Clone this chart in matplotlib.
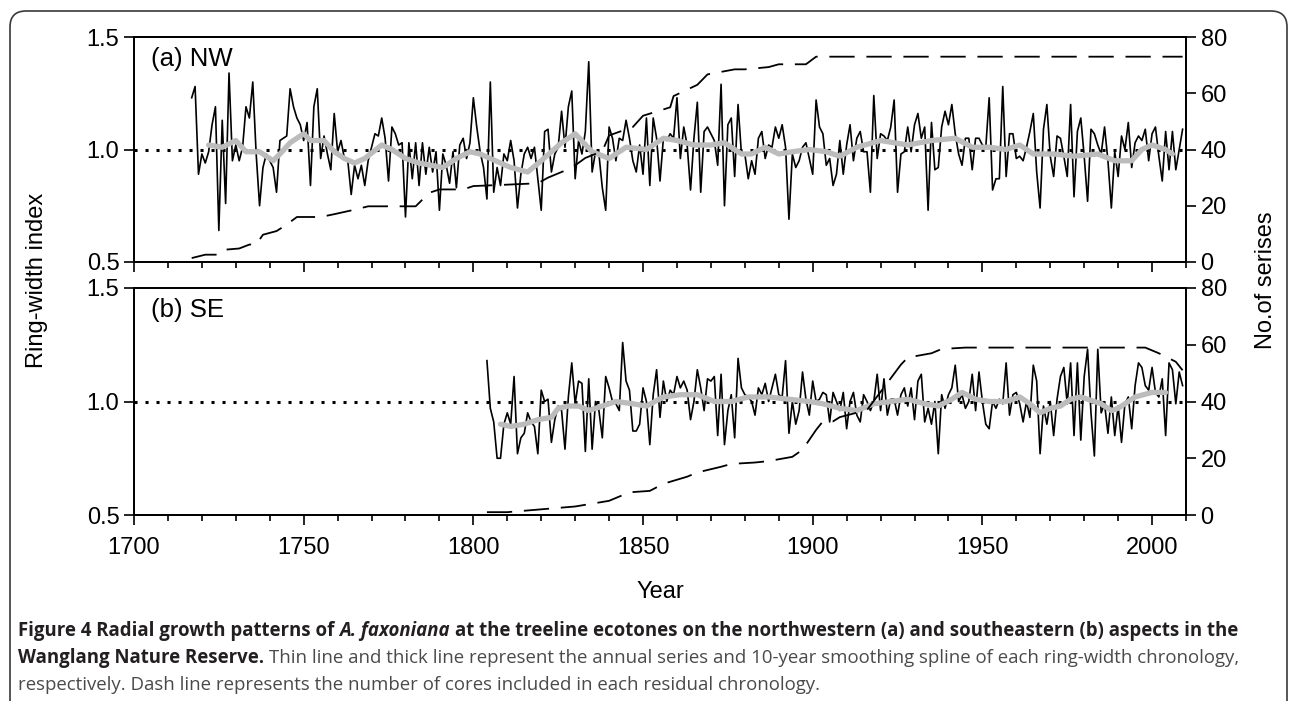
import numpy as np
import matplotlib
matplotlib.use("Agg")
import matplotlib.pyplot as plt
from matplotlib.patches import FancyBboxPatch
from matplotlib.ticker import MultipleLocator, FormatStrFormatter
from matplotlib.transforms import IdentityTransform

plt.rcParams['font.family'] = ['Liberation Sans', 'DejaVu Sans']

# --- (a) NW annual ring-width index, 1717-2009 ---
nw_start = 1717
nw_1717 = [1.23, 1.28, 0.89, 0.98, 0.94, 0.99, 1.11, 1.19, 0.64, 1.13, 0.76, 1.34, 0.95]
nw_1730 = [1.02, 0.95, 1.01, 1.19, 1.14, 1.30, 0.98, 0.75, 0.92, 0.98]
nw_1740 = [0.95, 0.92, 0.81, 1.04, 1.05, 1.06, 1.27, 1.19, 1.14, 1.11]
nw_1750 = [1.04, 1.12, 0.84, 1.19, 1.27, 0.96, 1.06, 0.98, 0.91, 1.16]
nw_1760 = [0.99, 1.04, 0.96, 0.95, 0.80, 0.93, 0.87, 0.93, 0.84, 0.95]
nw_1770 = [1.01, 1.07, 1.06, 1.14, 1.05, 0.86, 1.10, 1.07, 1.02, 1.03]
nw_1780 = [0.70, 1.03, 0.87, 1.03, 0.84, 1.03, 0.89, 1.01, 0.90, 0.99]
nw_1790 = [0.73, 0.98, 0.93, 0.85, 0.99, 0.83, 1.02, 1.05, 0.96, 1.03]
nw_1800 = [1.23, 1.10, 0.99, 0.92, 0.78, 1.30, 0.81, 0.92, 0.84, 0.98]
nw_1810 = [0.95, 1.04, 0.95, 0.74, 0.89, 0.98, 1.01, 0.96, 1.01, 0.87]
nw_1820 = [0.73, 1.08, 1.09, 0.90, 0.98, 1.01, 1.17, 1.01, 1.19, 1.26]
nw_1830 = [0.87, 1.04, 0.98, 1.08, 1.39, 0.90, 0.99, 0.98, 0.83, 0.73]
nw_1840 = [1.10, 1.05, 0.95, 1.05, 1.04, 1.13, 1.05, 0.95, 0.90, 1.02]
nw_1850 = [0.89, 1.14, 0.84, 1.14, 1.05, 0.86, 1.05, 1.04, 1.07, 1.05]
nw_1860 = [1.23, 0.96, 1.10, 1.02, 0.82, 1.05, 1.21, 0.81, 1.08, 1.10]
nw_1870 = [1.07, 1.04, 0.93, 1.29, 0.75, 1.11, 1.14, 0.88, 1.20, 0.98]
nw_1880 = [0.98, 0.87, 0.95, 0.89, 1.05, 1.08, 0.96, 1.02, 1.01, 1.10]
nw_1890 = [1.05, 1.11, 1.01, 0.69, 0.98, 0.92, 0.95, 1.01, 1.03, 0.96]
nw_1900 = [0.89, 1.22, 1.10, 1.07, 0.93, 0.96, 0.84, 0.89, 1.04, 0.89]
nw_1910 = [1.02, 1.11, 0.95, 1.05, 1.08, 0.99, 0.99, 0.81, 1.24, 0.96]
nw_1920 = [1.07, 1.06, 1.04, 1.10, 1.22, 0.81, 0.98, 0.99, 1.10, 0.99]
nw_1930 = [1.11, 1.16, 1.05, 1.10, 0.73, 1.12, 0.91, 0.92, 1.10, 1.17]
nw_1940 = [1.11, 1.20, 1.07, 0.98, 0.93, 1.05, 1.05, 0.91, 1.05, 1.05]
nw_1950 = [1.02, 1.01, 1.23, 0.82, 0.87, 0.87, 1.28, 0.88, 1.07, 1.07]
nw_1960 = [0.96, 0.97, 0.95, 1.01, 1.08, 1.16, 0.90, 0.74, 1.09, 1.20]
nw_1970 = [0.97, 0.88, 1.06, 1.05, 0.97, 0.88, 1.20, 0.79, 1.08, 1.14]
nw_1980 = [0.97, 0.77, 1.09, 1.07, 1.02, 0.98, 1.10, 0.95, 0.74, 0.99]
nw_1990 = [0.88, 1.06, 1.00, 1.12, 0.92, 1.03, 1.06, 1.04, 1.09, 0.95]
nw_2000 = [1.07, 1.10, 0.97, 0.86, 1.08, 0.91, 1.08, 0.91, 1.00, 1.09]

# 10-year spline (NW)
nw_spl_years = [1722, 1726, 1730, 1733, 1737, 1741, 1743, 1746, 1750, 1752, 1756, 1759,
                1762, 1765, 1768, 1773, 1776, 1780, 1784, 1791, 1795, 1799, 1802, 1805,
                1811, 1816, 1820, 1826, 1830, 1835, 1840, 1845, 1851, 1856, 1860, 1865,
                1870, 1874, 1879, 1882, 1886, 1890, 1894, 1899, 1904, 1908, 1913, 1920,
                1928, 1935, 1942, 1947, 1952, 1957, 1961, 1965, 1971, 1977, 1984, 1989,
                1994, 1997, 2000, 2004, 2006]
nw_spl_vals = [1.02, 1.01, 1.04, 0.99, 0.99, 0.95, 0.98, 1.03, 1.07, 1.04, 1.04, 0.99,
               0.96, 0.94, 0.96, 1.02, 1.00, 0.96, 0.94, 0.92, 0.96, 0.99, 0.98, 0.96,
               0.92, 0.90, 0.95, 1.03, 1.07, 0.99, 0.96, 1.01, 1.00, 1.05, 1.04, 1.02,
               1.02, 1.03, 0.98, 0.98, 1.01, 0.98, 0.99, 1.00, 0.99, 0.97, 1.01, 1.04,
               1.02, 1.04, 1.05, 1.01, 1.01, 1.00, 1.02, 0.98, 0.98, 0.97, 0.98, 0.95,
               0.95, 1.00, 1.02, 1.00, 0.98]

# sample depth (NW)
nw_n_years = [1717, 1721, 1725, 1727, 1731, 1734, 1736, 1738, 1742, 1745, 1748, 1755,
              1759, 1765, 1769, 1783, 1787, 1790, 1797, 1800, 1810, 1819, 1822, 1829,
              1833, 1838, 1840, 1847, 1850, 1858, 1859, 1866, 1869, 1877, 1880, 1887,
              1890, 1898, 1901, 2009]
nw_n_vals = [1.4, 2.6, 2.6, 4.4, 4.8, 6.2, 6.2, 9.7, 11, 13.3, 16, 16,
             17, 18.6, 19.8, 19.8, 24.6, 25.8, 25.8, 27, 27.5, 28, 30, 33.5,
             37, 39.4, 45, 48, 52, 55, 59, 63, 66.7, 68.5, 68.5, 69.3,
             70.3, 70.3, 73, 73]

# --- (b) SE annual ring-width index, 1804-2009 ---
se_start = 1804
se_1804 = [1.18, 0.97, 0.91, 0.75, 0.75, 0.90]
se_1810 = [0.95, 0.90, 1.11, 0.77, 0.84, 0.86, 0.95, 0.91, 0.89, 0.77]
se_1820 = [1.05, 1.00, 1.01, 0.82, 0.92, 0.98, 0.96, 0.79, 1.02, 1.17]
se_1830 = [0.99, 1.09, 1.08, 0.78, 1.10, 0.79, 1.00, 0.96, 0.84, 1.11]
se_1840 = [1.06, 1.00, 0.99, 0.96, 1.26, 1.09, 1.05, 0.87, 0.87, 0.90]
se_1850 = [1.06, 1.00, 0.81, 1.03, 1.14, 0.93, 1.09, 1.00, 1.05, 1.03]
se_1860 = [1.11, 1.06, 1.09, 1.05, 0.92, 1.00, 1.14, 1.06, 0.96, 1.10]
se_1870 = [1.09, 1.11, 0.85, 1.12, 0.81, 0.96, 1.03, 0.84, 1.19, 1.06]
se_1880 = [1.03, 1.02, 1.00, 0.94, 1.06, 1.03, 1.08, 1.00, 1.06, 1.12]
se_1890 = [1.03, 1.02, 1.18, 0.86, 1.00, 0.90, 0.96, 1.13, 1.01, 0.94]
se_1900 = [1.09, 1.00, 1.01, 1.04, 1.03, 0.91, 1.04, 1.00, 0.96, 1.04]
se_1910 = [0.88, 1.00, 1.04, 0.94, 0.91, 1.03, 1.00, 0.96, 1.00, 1.12]
se_1920 = [0.96, 1.10, 0.94, 1.01, 1.01, 0.94, 1.03, 1.06, 0.98, 1.06]
se_1930 = [0.92, 1.09, 1.12, 0.91, 0.97, 0.90, 1.00, 0.77, 1.03, 0.97]
se_1940 = [1.03, 1.06, 1.16, 1.00, 1.03, 0.97, 1.00, 1.12, 0.96, 1.13]
se_1950 = [1.00, 0.90, 0.88, 1.00, 0.97, 1.01, 0.99, 1.17, 0.94, 1.03]
se_1960 = [1.04, 0.99, 0.91, 1.00, 0.93, 1.16, 1.09, 0.77, 0.98, 0.90]
se_1970 = [1.00, 0.85, 1.01, 1.11, 1.15, 0.99, 1.17, 0.85, 1.17, 0.83]
se_1980 = [1.11, 1.23, 0.95, 0.76, 1.23, 0.95, 0.99, 0.86, 1.02, 0.85]
se_1990 = [0.98, 0.82, 0.99, 1.02, 0.88, 1.07, 1.17, 1.15, 1.07, 1.05]
se_2000 = [1.15, 1.04, 1.02, 1.10, 0.85, 1.17, 1.14, 0.99, 1.13, 1.07]

se_spl_years = [1808, 1811, 1815, 1819, 1823, 1825, 1828, 1831, 1834, 1838, 1842, 1847,
                1851, 1856, 1861, 1866, 1871, 1876, 1881, 1887, 1893, 1899, 1903, 1908,
                1913, 1918, 1923, 1928, 1933, 1937, 1941, 1944, 1948, 1952, 1957, 1961,
                1964, 1967, 1970, 1973, 1976, 1979, 1981, 1985, 1988, 1990, 1993, 1995,
                2000, 2004]
se_spl_vals = [0.90, 0.89, 0.90, 0.92, 0.93, 0.97, 0.98, 0.98, 0.96, 0.98, 1.00, 0.99,
               0.98, 1.02, 1.03, 1.03, 1.00, 1.00, 1.02, 1.02, 1.01, 1.00, 0.99, 0.97,
               0.96, 0.99, 1.00, 1.01, 0.99, 0.98, 1.01, 1.04, 1.01, 1.00, 1.00, 1.02,
               0.99, 0.95, 0.97, 0.98, 1.01, 1.02, 1.01, 0.99, 0.96, 0.97, 1.00, 1.02,
               1.04, 1.04]

se_n_years = [1804, 1810, 1820, 1830, 1840, 1846, 1852, 1856, 1863, 1866, 1873, 1876,
              1883, 1887, 1894, 1897, 1901, 1903, 1906, 1908, 1916, 1926, 1928, 1935,
              1938, 1945, 1998, 2002, 2007, 2009]
se_n_vals = [1, 1, 2, 3, 5, 8, 8.5, 11, 13.5, 15, 17, 18,
             18.5, 19, 20.5, 23, 30, 33, 33, 34.5, 37, 53, 55.5, 57,
             58.5, 59, 59, 57, 54, 51]

nw_idx = (nw_1717 + nw_1730 + nw_1740 + nw_1750 + nw_1760 + nw_1770 + nw_1780 + nw_1790
          + nw_1800 + nw_1810 + nw_1820 + nw_1830 + nw_1840 + nw_1850 + nw_1860 + nw_1870
          + nw_1880 + nw_1890 + nw_1900 + nw_1910 + nw_1920 + nw_1930 + nw_1940 + nw_1950
          + nw_1960 + nw_1970 + nw_1980 + nw_1990 + nw_2000)
se_idx = (se_1804 + se_1810 + se_1820 + se_1830 + se_1840 + se_1850 + se_1860 + se_1870
          + se_1880 + se_1890 + se_1900 + se_1910 + se_1920 + se_1930 + se_1940 + se_1950
          + se_1960 + se_1970 + se_1980 + se_1990 + se_2000)
nw_years = np.arange(nw_start, nw_start + len(nw_idx))
se_years = np.arange(se_start, se_start + len(se_idx))

W, H = 1293, 701
fig = plt.figure(figsize=(W / 100, H / 100), dpi=100)

L, R = 134, 1186
ax1 = fig.add_axes([L / W, 1 - 262 / H, (R - L) / W, 225 / H])
ax2 = fig.add_axes([L / W, 1 - 515 / H, (R - L) / W, 227 / H])


def panel(ax, yrs, idx, syr, sval, nyr, nval, label, show_x):
    ax.axhline(1.0, color='black', lw=2.2, ls=(0, (1, 2.6)), zorder=1)
    ax.plot(yrs, idx, color='black', lw=1.2, zorder=2)
    ax.plot(syr, sval, color='#bcbcbc', lw=3.8, zorder=3, solid_capstyle='round')
    ax.set_xlim(1700, 2010)
    ax.set_ylim(0.5, 1.5)
    ax.set_yticks([0.5, 1.0, 1.5])
    ax.yaxis.set_major_formatter(FormatStrFormatter('%.1f'))
    ax.xaxis.set_major_locator(MultipleLocator(50))
    ax.xaxis.set_minor_locator(MultipleLocator(10))
    ax.tick_params(which='major', direction='out', length=7, width=1.2, labelsize=17,
                   labelbottom=show_x)
    ax.tick_params(axis='x', which='major', pad=9)
    ax.tick_params(which='minor', direction='out', length=4, width=1.2)
    for s in ax.spines.values():
        s.set_linewidth(1.3)
    ax.text(0.016, 0.955, label, transform=ax.transAxes, fontsize=18.5, va='top', ha='left')

    tw = ax.twinx()
    tw.plot(nyr, nval, color='black', lw=1.3, ls=(0, (14, 6.5)))
    tw.set_ylim(0, 80)
    tw.set_yticks([0, 20, 40, 60, 80])
    tw.tick_params(direction='out', length=7, width=1.2, labelsize=17)
    for s in tw.spines.values():
        s.set_linewidth(1.3)


panel(ax1, nw_years, nw_idx, nw_spl_years, nw_spl_vals, nw_n_years, nw_n_vals, '(a) NW', False)
panel(ax2, se_years, se_idx, se_spl_years, se_spl_vals, se_n_years, se_n_vals, '(b) SE', True)

fig.text(37 / W, 1 - 280 / H, 'Ring-width index', rotation=90, ha='center', va='center', fontsize=17)
fig.text(1266 / W, 1 - 280 / H, 'No.of serises', rotation=90, ha='center', va='center', fontsize=17)
fig.text((L + R) / 2 / W, 1 - 592 / H, 'Year', ha='center', va='center', fontsize=17)

# rounded frame around the figure
frame = FancyBboxPatch((0.10, -1.0), 12.77, 7.90, transform=fig.dpi_scale_trans,
                       boxstyle='round,pad=0,rounding_size=0.16', fill=False,
                       ec='#3a3a3a', lw=1.2)
fig.patches.append(frame)

# caption with mixed weights
cap_font = ['Open Sans', 'DejaVu Sans']
cap_size = 13.4
bold_c = '#231f20'
reg_c = '#4a4a4a'
caption = [
    [('Figure 4 Radial growth patterns of', 'bold', 'normal', bold_c),
     ('A. faxoniana', 'bold', 'italic', bold_c),
     ('at the treeline ecotones on the northwestern (a) and southeastern (b) aspects in the', 'bold', 'normal', bold_c)],
    [('Wanglang Nature Reserve.', 'bold', 'normal', bold_c),
     ('Thin line and thick line represent the annual series and 10-year smoothing spline of each ring-width chronology,', 'normal', 'normal', reg_c)],
    [('respectively. Dash line represents the number of cores included in each residual chronology.', 'normal', 'normal', reg_c)],
]
base_y = [636, 663, 690]

renderer = fig.canvas.get_renderer()
for line, by in zip(caption, base_y):
    x = 18
    for txt, wt, st, col in line:
        t = fig.text(x, H - by, txt, transform=IdentityTransform(), family=cap_font,
                     fontsize=cap_size, fontweight=wt, fontstyle=st, color=col,
                     ha='left', va='baseline')
        w = t.get_window_extent(renderer).width
        a = fig.text(0, 0, 'x x', family=cap_font, fontsize=cap_size, fontweight=wt)
        b = fig.text(0, 0, 'xx', family=cap_font, fontsize=cap_size, fontweight=wt)
        sp = a.get_window_extent(renderer).width - b.get_window_extent(renderer).width
        a.remove()
        b.remove()
        x += w + sp

fig.savefig('out.png', dpi=100)
